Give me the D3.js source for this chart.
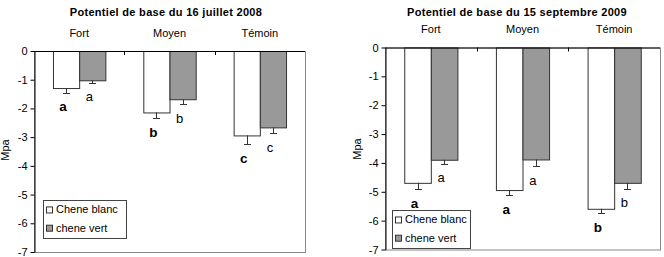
<!DOCTYPE html>
<html>
  <head>
    <meta charset="utf-8">
    <title>Potentiel de base</title>
    <script type="text/javascript" src="https://d3js.org/d3.v7.min.js"></script>
    <style type="text/css">
      body { margin: 0; background: #fff; }
      svg { font-family: "Liberation Sans", Arial, sans-serif; }
      .tick text { font-size: 11px; fill: #000; }
    </style>
  </head>
  <body>
    <script type="text/javascript">
    // categories and series
    var categories = ["Fort", "Moyen", "Témoin"];
    var series = ["Chene blanc", "chene vert"];
    var yTicks = [0, -1, -2, -3, -4, -5, -6, -7];

    // 16 juillet 2008
    var blanc2008 = [-1.29, -2.14, -2.94];
    var blancErr2008 = [0.16, 0.21, 0.30];
    var vert2008 = [-1.02, -1.68, -2.66];
    var vertErr2008 = [0.08, 0.18, 0.19];
    var blancLetters2008 = ["a", "b", "c"];
    var vertLetters2008 = ["a", "b", "c"];

    // 15 septembre 2009
    var blanc2009 = [-4.69, -4.94, -5.59];
    var blancErr2009 = [0.21, 0.16, 0.16];
    var vert2009 = [-3.89, -3.88, -4.69];
    var vertErr2009 = [0.14, 0.23, 0.20];
    var blancLetters2009 = ["a", "a", "b"];
    var vertLetters2009 = ["a", "a", "b"];

    var svg = d3.select("body")
                .append("svg")
                .attr("width", 664)
                .attr("height", 257);

    function drawChart(c){
      var g = svg.append("g");

      var xScale = d3.scaleBand()
                     .domain(categories)
                     .range([c.left, c.right]);
      var subScale = d3.scaleBand()
                       .domain(series)
                       .range([xScale.bandwidth() * 0.21, xScale.bandwidth() * 0.79]);
      var yScale = d3.scaleLinear()
                     .domain([0, -7])
                     .range([c.top, c.bottom]);

      // plot frame
      g.append("rect")
       .attr("x", c.left + 0.5)
       .attr("y", yScale(0) + 0.5)
       .attr("width", c.right - c.left)
       .attr("height", yScale(-7) - yScale(0))
       .attr("fill", "#fff")
       .attr("stroke", "#888");

      // title + category names
      g.append("text")
       .attr("x", c.titleX)
       .attr("y", 16)
       .attr("text-anchor", "middle")
       .style("font-size", "11px")
       .style("font-weight", "bold")
       .style("letter-spacing", "0.3px")
       .text(c.title);

      g.selectAll(".cat")
       .data(categories)
       .enter()
       .append("text")
       .attr("x", function(d){ return xScale(d) + xScale.bandwidth() / 2; })
       .attr("y", c.catY)
       .attr("text-anchor", "middle")
       .style("font-size", "11px")
       .text(function(d){ return d; });

      var rows = [
        {name: series[0], vals: c.blanc, errs: c.blancErr, letters: c.blancLetters, fill: "#fff", bold: true},
        {name: series[1], vals: c.vert, errs: c.vertErr, letters: c.vertLetters, fill: "#999", bold: false}
      ];

      rows.forEach(function(r){
        var pts = categories.map(function(cat, i){
          return {cat: cat, v: r.vals[i], e: r.errs[i], l: r.letters[i]};
        });
        var bx = function(d){ return xScale(d.cat) + subScale(r.name); };

        g.selectAll(null)
         .data(pts)
         .enter()
         .append("rect")
         .attr("x", function(d){ return bx(d) + 0.5; })
         .attr("y", yScale(0) + 0.5)
         .attr("width", subScale.bandwidth())
         .attr("height", function(d){ return yScale(d.v) - yScale(0); })
         .attr("fill", r.fill)
         .attr("stroke", "#333");

        // error bars (downward only)
        var mid = function(d){ return Math.round(bx(d) + subScale.bandwidth() / 2) + 0.5; };
        g.selectAll(null)
         .data(pts)
         .enter()
         .append("path")
         .attr("d", function(d){
           var x = mid(d), y1 = yScale(d.v), y2 = Math.round(yScale(d.v - d.e)) + 0.5;
           return "M" + x + "," + y1 + "V" + y2 + "M" + (x - 3.5) + "," + y2 + "H" + (x + 3.5);
         })
         .attr("stroke", "#333")
         .attr("fill", "none");

        g.selectAll(null)
         .data(pts)
         .enter()
         .append("text")
         .attr("x", function(d){ return bx(d) + subScale.bandwidth() / 2 - 3; })
         .attr("y", function(d){ return yScale(d.v - d.e) + 14; })
         .attr("dy", "0.36em")
         .attr("text-anchor", "middle")
         .style("font-size", r.bold ? "13.5px" : "13px")
         .style("font-weight", r.bold ? "bold" : "normal")
         .text(function(d){ return d.l; });
      });

      // y axis
      g.append("g")
       .attr("transform", "translate(" + (c.left + 0.5) + ",0)")
       .call(d3.axisLeft(yScale)
               .tickValues(yTicks)
               .tickSize(4)
               .tickSizeOuter(0)
               .tickFormat(function(d){ return String(d); }))
       .call(function(a){ a.selectAll("line, path").attr("stroke", "#000"); })
       .call(function(a){ a.selectAll("text").attr("x", -7); });

      // zero line with category separators
      g.append("line")
       .attr("x1", c.left).attr("x2", c.right)
       .attr("y1", yScale(0) + 0.5).attr("y2", yScale(0) + 0.5)
       .attr("stroke", "#000");
      g.selectAll(null)
       .data(categories.slice(1))
       .enter()
       .append("line")
       .attr("x1", function(d){ return Math.round(xScale(d)) + 0.5; })
       .attr("x2", function(d){ return Math.round(xScale(d)) + 0.5; })
       .attr("y1", yScale(0))
       .attr("y2", yScale(0) + 4)
       .attr("stroke", "#000");

      g.append("text")
       .attr("transform", "translate(" + c.labelX + "," + c.labelY + ") rotate(-90)")
       .attr("text-anchor", "middle")
       .style("font-size", "11px")
       .text("Mpa");

      // legend
      var lg = g.append("g").attr("transform", "translate(" + c.legX + "," + c.legY + ")");
      lg.append("rect")
        .attr("x", 0.5).attr("y", 0.5)
        .attr("width", c.legW).attr("height", c.legH)
        .attr("fill", "#fff")
        .attr("stroke", "#444");
      series.forEach(function(s, i){
        lg.append("rect")
          .attr("x", 3.5).attr("y", c.legH * (0.17 + i * 0.48) + 0.5)
          .attr("width", 6).attr("height", 6)
          .attr("fill", rows[i].fill)
          .attr("stroke", "#333");
        lg.append("text")
          .attr("x", 13)
          .attr("y", c.legH * (0.17 + i * 0.48) + 7)
          .style("font-size", "11px")
          .text(s);
      });
    }

    drawChart({
      title: "Potentiel de base du 16 juillet 2008", titleX: 166, catY: 37,
      left: 34, right: 305, top: 51, bottom: 252,
      blanc: blanc2008, blancErr: blancErr2008, vert: vert2008, vertErr: vertErr2008,
      blancLetters: blancLetters2008, vertLetters: vertLetters2008,
      labelX: 9, labelY: 150,
      legX: 43, legY: 200, legW: 83, legH: 38
    });

    drawChart({
      title: "Potentiel de base du 15 septembre 2009", titleX: 517, catY: 33,
      left: 385, right: 660, top: 47.5, bottom: 249.5,
      blanc: blanc2009, blancErr: blancErr2009, vert: vert2009, vertErr: vertErr2009,
      blancLetters: blancLetters2009, vertLetters: vertLetters2009,
      labelX: 361, labelY: 149,
      legX: 392, legY: 210, legW: 78, legH: 38
    });
    </script>
  </body>
</html>
